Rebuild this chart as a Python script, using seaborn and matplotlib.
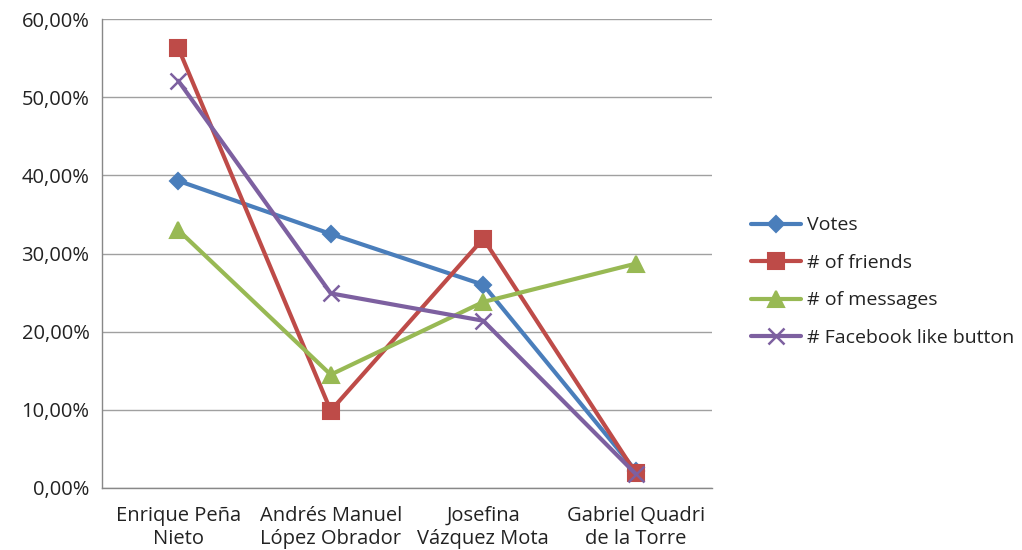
import pandas as pd
import numpy as np
import matplotlib
matplotlib.use("Agg")
import matplotlib.pyplot as plt
import seaborn as sns
from matplotlib.ticker import FuncFormatter

# data (share, %)
candidates = ["Enrique Peña\nNieto", "Andrés Manuel\nLópez Obrador",
              "Josefina\nVázquez Mota", "Gabriel Quadri\nde la Torre"]
votes = [39.3, 32.5, 26.0, 2.2]
friends = [56.3, 9.9, 31.9, 1.9]
messages = [33.0, 14.5, 23.8, 28.7]
fb_likes = [52.1, 24.9, 21.4, 1.8]
series_names = ["Votes", "# of friends", "# of messages", "# Facebook like button"]

df = pd.DataFrame({
    "pos": list(range(4)) * 4,
    "value": votes + friends + messages + fb_likes,
    "serie": [s for s in series_names for _ in range(4)],
})

sns.set_theme(style="white")
plt.rcParams["font.family"] = ["Open Sans", "DejaVu Sans"]

colors = {"Votes": "#4A7EBB", "# of friends": "#BE4B48",
          "# of messages": "#98B954", "# Facebook like button": "#7D60A0"}
markers = {"Votes": "D", "# of friends": "s",
           "# of messages": "^", "# Facebook like button": "x"}
msizes = {"Votes": 8, "# of friends": 11, "# of messages": 11, "# Facebook like button": 11}

fig = plt.figure(figsize=(10.22, 5.5), dpi=100)
ax = fig.add_axes([102 / 1022, 1 - 488 / 550, 610 / 1022, 469 / 550])

for s in series_names:
    sub = df[df["serie"] == s]
    sns.lineplot(data=sub, x="pos", y="value", ax=ax, color=colors[s],
                 marker=markers[s], markersize=msizes[s], linewidth=3,
                 markeredgewidth=1.5 if s != "# Facebook like button" else 1.8,
                 markeredgecolor=colors[s], label=s)

ax.set_xlim(-0.5, 3.5)
ax.set_ylim(0, 60)
ax.set_yticks(np.arange(0, 61, 10))
ax.yaxis.set_major_formatter(FuncFormatter(lambda v, p: f"{v:.2f}%".replace(".", ",")))
ax.set_xticks(range(4))
ax.set_xticklabels(candidates, linespacing=1.2)
ax.set_xticks(np.arange(-0.5, 3.6, 1), minor=True)
ax.tick_params(axis="x", which="major", length=0, labelsize=14.5, pad=13, colors="#222222")
ax.tick_params(axis="x", which="minor", length=6, color="#888888", width=1, direction="out")
ax.tick_params(axis="y", length=6, color="#888888", width=1, direction="out",
               labelsize=14.5, pad=3, labelcolor="#222222")
ax.set_xlabel("")
ax.set_ylabel("")
ax.grid(axis="y", color="#a0a0a0", linewidth=1)
ax.set_axisbelow(True)
for side in ["top", "right"]:
    ax.spines[side].set_visible(False)
for side in ["left", "bottom"]:
    ax.spines[side].set_color("#888888")
    ax.spines[side].set_linewidth(1)

leg = ax.legend(loc="center left", bbox_to_anchor=(1.035, 0.44), frameon=False,
                fontsize=14, handlelength=2.6, labelspacing=1.0, handletextpad=0.3)
for t in leg.get_texts():
    t.set_color("#222222")

fig.savefig("out.png", dpi=100)
